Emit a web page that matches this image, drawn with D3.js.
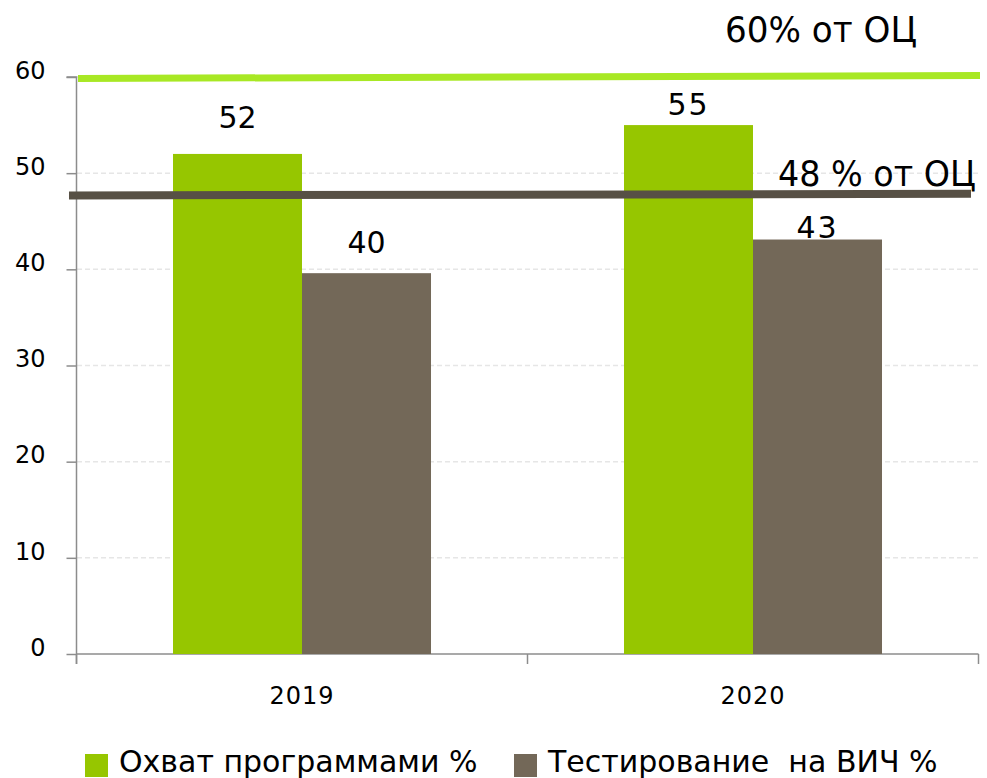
<!DOCTYPE html>
<html>
<head>
<meta charset="utf-8">
<script src="https://cdn.jsdelivr.net/npm/d3@7"></script>
<style>
  html, body { margin: 0; padding: 0; background: #fff; }
  svg { display: block; font-family: "DejaVu Sans", sans-serif; }
</style>
</head>
<body>
<svg id="chart" width="987" height="778"></svg>
<script>
// ---- data ----
const years = ["2019", "2020"];
const seriesNames = ["Охват программами %", "Тестирование  на ВИЧ %"];
const coverage = [52, 55];
const testing = [39.6, 43.1];
const yTicks = [0, 10, 20, 30, 40, 50, 60];
const targetHigh = [59.85, 60.15];   // left / right end of the 60% line
const targetLow = [47.68, 47.86];    // left / right end of the 48% line
const targetHighLabel = "60% от ОЦ";
const targetLowLabel = "48 % от ОЦ";

// ---- drawing ----
const colors = ["#96c600", "#736858"];
const svg = d3.select("#chart");

const y = d3.scaleLinear().domain([0, 60]).range([654, 77]);
const x = d3.scaleBand().domain(years).range([76.5, 978.5]).paddingInner(0).paddingOuter(0);
const xs = d3.scaleBand().domain(seriesNames).range([0, x.bandwidth()]).paddingInner(0).paddingOuter(0.748);

// gridlines
svg.append("g").selectAll("line").data(yTicks.filter(d => d > 0)).join("line")
  .attr("x1", 77).attr("x2", 978)
  .attr("y1", d => y(d)).attr("y2", d => y(d))
  .attr("stroke", "#e6e6e6").attr("stroke-width", 1.5)
  .attr("stroke-dasharray", "5,3");

// y axis
const yAxis = svg.append("g").attr("transform", "translate(76.5,0)")
  .call(d3.axisLeft(y).tickValues(yTicks).tickSize(10).tickPadding(0).tickFormat(d3.format("d")));
yAxis.select(".domain").attr("stroke", "#8c8c8c").attr("stroke-width", 1.5)
  .attr("d", `M-10,${y(60)}H0V664`);
yAxis.selectAll(".tick line").attr("stroke", "#8c8c8c").attr("stroke-width", 1.5);
yAxis.selectAll(".tick text").attr("x", -31).attr("dy", "0.05em")
  .attr("font-size", 24).attr("fill", "#000").attr("font-family", "DejaVu Sans");

// x axis
const xAxis = svg.append("g").attr("transform", "translate(0,654)")
  .call(d3.axisBottom(x).tickSize(0).tickPadding(0));
xAxis.select(".domain").attr("stroke", "#8c8c8c").attr("stroke-width", 1.5)
  .attr("d", `M76.5,0H978.5`);
xAxis.selectAll(".tick text").attr("y", 50).attr("dy", 0)
  .attr("font-size", 24).attr("fill", "#000").attr("font-family", "DejaVu Sans")
  .attr("letter-spacing", 1);
// boundary ticks between categories
const bounds = [x.range()[0], ...years.map(d => x(d) + x.bandwidth())];
svg.append("g").selectAll("line").data(bounds).join("line")
  .attr("x1", d => d).attr("x2", d => d)
  .attr("y1", 654).attr("y2", 664)
  .attr("stroke", "#8c8c8c").attr("stroke-width", 1.5);

// bars
const rows = years.map((yr, i) => ({ year: yr, values: [coverage[i], testing[i]] }));
const labelGap = [[26, 20], [10, 2]];
const groups = svg.append("g").selectAll("g").data(rows).join("g")
  .attr("transform", d => `translate(${x(d.year)},0)`);
groups.selectAll("rect").data(d => d.values.map((v, j) => ({ v, j }))).join("rect")
  .attr("x", d => xs(seriesNames[d.j]))
  .attr("width", xs.bandwidth())
  .attr("y", d => y(d.v))
  .attr("height", d => y(0) - y(d.v))
  .attr("fill", d => colors[d.j]);
groups.each(function (row, i) {
  d3.select(this).selectAll("text.val").data(row.values.map((v, j) => ({ v, j }))).join("text")
    .attr("class", "val")
    .attr("x", d => xs(seriesNames[d.j]) + xs.bandwidth() / 2)
    .attr("y", d => y(d.v) - labelGap[i][d.j])
    .attr("text-anchor", "middle")
    .attr("font-size", 30)
    .attr("letter-spacing", i === 1 ? 2 : 0)
    .attr("fill", "#000")
    .text(d => d3.format(".0f")(d.v));
});

// target lines
const lineGen = d3.line().x(d => d[0]).y(d => y(d[1]));
svg.append("path")
  .attr("d", lineGen([[78, targetHigh[0]], [980, targetHigh[1]]]))
  .attr("stroke", "#a8e824").attr("stroke-width", 7).attr("fill", "none");
svg.append("path")
  .attr("d", lineGen([[69, targetLow[0]], [971, targetLow[1]]]))
  .attr("stroke", "#575045").attr("stroke-width", 8).attr("fill", "none");

svg.append("text").attr("x", 725).attr("y", 42)
  .attr("font-size", 36).attr("fill", "#000")
  .attr("textLength", 192).attr("lengthAdjust", "spacingAndGlyphs")
  .text(targetHighLabel);
svg.append("text").attr("x", 778).attr("y", 186)
  .attr("font-size", 35).attr("fill", "#000")
  .attr("textLength", 198).attr("lengthAdjust", "spacingAndGlyphs")
  .text(targetLowLabel);

// legend
const legendX = [85, 514];
const lg = svg.append("g").selectAll("g").data(seriesNames).join("g")
  .attr("transform", (d, i) => `translate(${legendX[i]},754)`);
lg.append("rect").attr("width", 23).attr("height", 23).attr("fill", (d, i) => colors[i]);
lg.append("text").attr("x", 34).attr("y", 18)
  .attr("font-size", 30).attr("fill", "#000")
  .style("white-space", "pre")
  .text(d => d);
</script>
</body>
</html>
